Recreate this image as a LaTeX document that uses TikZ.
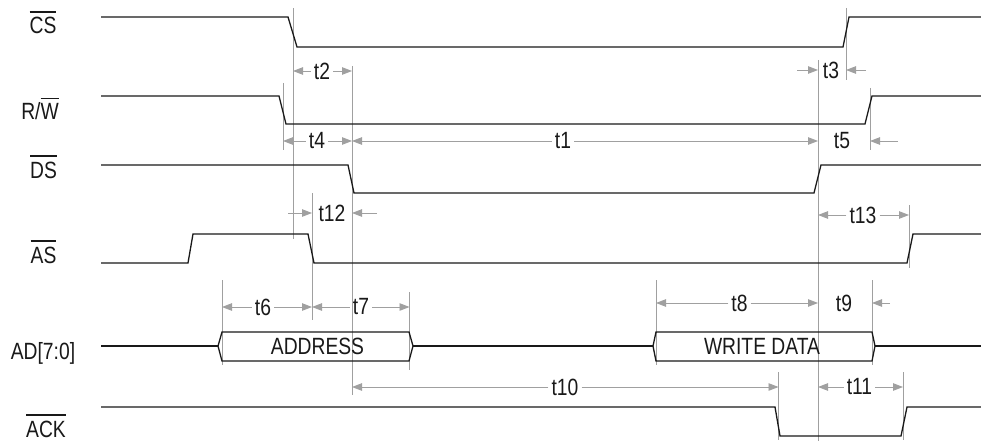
\documentclass[tikz,border=0pt]{standalone}
\usepackage{fontspec}
\newfontfamily\lab{Liberation Sans}[FakeStretch=0.82]
\usetikzlibrary{arrows.meta,calc}
\definecolor{dimc}{RGB}{160,160,160}
\definecolor{sigc}{RGB}{25,25,25}
\newcommand\ovl[1]{\leavevmode\vbox{\hrule height 1.1pt\kern 5pt\hbox{#1}}}
\begin{document}
\begin{tikzpicture}[x=1pt,y=-1pt,
  sig/.style={draw=sigc,line width=1.3pt,line join=miter},
  refl/.style={draw=dimc,line width=0.9pt},
  dim/.style={draw=dimc,line width=0.9pt,-{Triangle[length=10pt,width=7.5pt]}},
  lbl/.style={font=\lab\fontsize{23.5}{28}\selectfont,inner sep=0pt,text=sigc},
  tl/.style={font=\lab\fontsize{23.5}{28}\selectfont,inner sep=3pt,text=sigc},
]
\useasboundingbox (0,0) rectangle (981,441);
% reference lines
\foreach \n/\x/\a/\b in {a/283/83/150, b/293/8/239, c/312/193/320, d/352/66/395,
  e/222/280/365, f/409.5/292/370, g/656/280/365, h/872/280/365, i/778.5/372/440,
  j/903/372/440, k/818/60/441, l/846/8/80, m/870/88/150, n/909/205/268} {
  \coordinate (\n) at (\x,0);
  \draw[refl] (\x,\a) -- (\x,\b);
}
% signal labels
\node[lbl,anchor=base] (lCS) at (43,34) {\ovl{CS}};
\node[lbl,anchor=base] (lRW) at (40,120) {R/\ovl{W}};
\node[lbl,anchor=base] (lDS) at (43.5,178) {\ovl{DS}};
\node[lbl,anchor=base] (lAS) at (43.5,263) {\ovl{AS}};
\node[lbl,anchor=base] (lAD) at (43,359) {AD[7:0]};
\node[lbl,anchor=base] (lACK) at (46,437) {\ovl{ACK}};
% signals
\draw[sig] (101,17) -- (288,17) -- (297,47) -- (843,47) -- (849,17) -- (981,17);
\draw[sig] (101,96) -- (279,96) -- (286,124) -- (865,124) -- (872,96) -- (981,96);
\draw[sig] (101,165) -- (348,165) -- (354,193) -- (814,193) -- (821,165) -- (981,165);
\draw[sig] (101,263) -- (188,263) -- (193,234) -- (308,234) -- (314,263) -- (907,263) -- (913,234) -- (981,234);
\draw[sig] (101,407) -- (775,407) -- (780,436) -- (901,436) -- (907,407) -- (981,407);
% bus
\draw[sig] (101,346) -- (218,346);
\draw[sig] (218,346) -- (222,332) -- (409,332) -- (413,346) -- (409,361) -- (222,361) -- cycle;
\draw[sig] (413,346) -- (653,346);
\draw[sig] (653,346) -- (656,332) -- (872,332) -- (875,346) -- (872,361) -- (656,361) -- cycle;
\draw[sig] (875,346) -- (981,346);
\node[lbl,anchor=base] (addr) at (317.5,354) {ADDRESS};
\node[lbl,anchor=base] (wd) at (762,354) {WRITE DATA};
% timing annotations
\node[tl] (t2) at (322,71) {t2};
\draw[dim] (t2) -- (b |- t2);
\draw[dim] (t2) -- (d |- t2);
\node[tl] (t3) at (831,70) {t3};
\draw[dim] ($(k |- t3)+(-21,0)$) -- (k |- t3);
\draw[dim] ($(l |- t3)+(20,0)$) -- (l |- t3);
\node[tl] (t4) at (317,141) {t4};
\draw[dim] (t4) -- (a |- t4);
\draw[dim] (t4) -- (d |- t4);
\node[tl] (t1) at (563,141) {t1};
\draw[dim] (t1) -- (d |- t1);
\draw[dim] (t1) -- (k |- t1);
\node[tl] (t5) at (842,141) {t5};
\draw[dim] ($(m |- t5)+(28,0)$) -- (m |- t5);
\node[tl] (t12) at (332,213) {t12};
\draw[dim] ($(c |- t12)+(-24,0)$) -- (c |- t12);
\draw[dim] ($(d |- t12)+(25,0)$) -- (d |- t12);
\node[tl] (t13) at (863,215) {t13};
\draw[dim] (t13) -- (k |- t13);
\draw[dim] (t13) -- (n |- t13);
\node[tl] (t6) at (263,307) {t6};
\draw[dim] (t6) -- (e |- t6);
\draw[dim] (t6) -- (c |- t6);
\node[tl] (t7) at (361,307) {t7};
\draw[dim] (t7) -- (c |- t7);
\draw[dim] (t7) -- (f |- t7);
\node[tl] (t8) at (739.5,303) {t8};
\draw[dim] (t8) -- (g |- t8);
\draw[dim] (t8) -- (k |- t8);
\node[tl] (t9) at (844,303) {t9};
\draw[dim] ($(h |- t9)+(18,0)$) -- (h |- t9);
\node[tl] (t10) at (565,387) {t10};
\draw[dim] (t10) -- (d |- t10);
\draw[dim] (t10) -- (i |- t10);
\node[tl] (t11) at (859.5,387) {t11};
\draw[dim] (t11) -- (k |- t11);
\draw[dim] (t11) -- (j |- t11);
\end{tikzpicture}
\end{document}
